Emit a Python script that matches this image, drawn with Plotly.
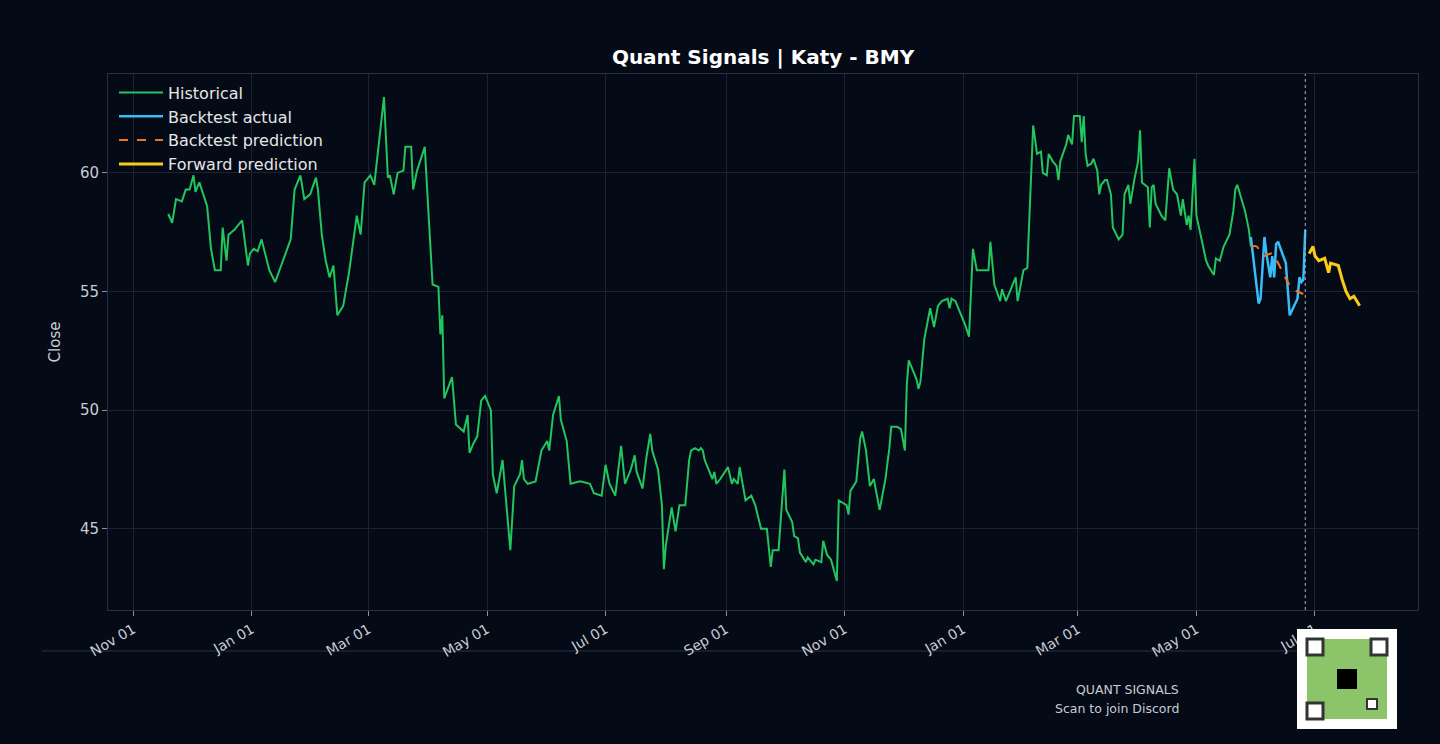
import plotly.graph_objects as go

hist_dates = ["2023-11-19","2023-11-21","2023-11-23","2023-11-26","2023-11-28","2023-11-30","2023-12-02","2023-12-03","2023-12-05","2023-12-07","2023-12-09","2023-12-11","2023-12-13","2023-12-16","2023-12-17","2023-12-19","2023-12-20","2023-12-23","2023-12-27","2023-12-30","2023-12-31",
"2024-01-02","2024-01-04","2024-01-06","2024-01-10","2024-01-13","2024-01-15","2024-01-17","2024-01-21","2024-01-23","2024-01-26","2024-01-28","2024-01-31","2024-02-03","2024-02-04","2024-02-06","2024-02-08","2024-02-10","2024-02-12","2024-02-14","2024-02-17","2024-02-20","2024-02-24","2024-02-26","2024-02-28",
"2024-03-02","2024-03-04","2024-03-05","2024-03-09","2024-03-11","2024-03-12","2024-03-14","2024-03-16","2024-03-19","2024-03-20","2024-03-23","2024-03-24","2024-03-26","2024-03-30","2024-03-31",
"2024-04-03","2024-04-06","2024-04-07","2024-04-08","2024-04-09","2024-04-13","2024-04-15","2024-04-19","2024-04-21","2024-04-22","2024-04-24","2024-04-26","2024-04-28","2024-04-30",
"2024-05-03","2024-05-04","2024-05-06","2024-05-09","2024-05-13","2024-05-15","2024-05-18","2024-05-19","2024-05-20","2024-05-22","2024-05-26","2024-05-29",
"2024-06-01","2024-06-02","2024-06-04","2024-06-07","2024-06-08","2024-06-11","2024-06-13","2024-06-18","2024-06-23","2024-06-25","2024-06-29",
"2024-07-01","2024-07-03","2024-07-06","2024-07-09","2024-07-11","2024-07-14","2024-07-16","2024-07-17","2024-07-20","2024-07-22","2024-07-24","2024-07-25","2024-07-28","2024-07-30","2024-07-31",
"2024-08-01","2024-08-04","2024-08-06","2024-08-08","2024-08-11","2024-08-13","2024-08-14","2024-08-16","2024-08-18","2024-08-19","2024-08-20","2024-08-21","2024-08-25","2024-08-26","2024-08-27","2024-08-29",
"2024-09-02","2024-09-04","2024-09-05","2024-09-07","2024-09-08","2024-09-11","2024-09-14","2024-09-16","2024-09-19","2024-09-22","2024-09-24","2024-09-25","2024-09-28",
"2024-10-01","2024-10-02","2024-10-05","2024-10-06","2024-10-08","2024-10-09","2024-10-12","2024-10-13","2024-10-16","2024-10-17","2024-10-20","2024-10-21","2024-10-23","2024-10-25","2024-10-28","2024-10-29","2024-10-31",
"2024-11-02","2024-11-03","2024-11-04","2024-11-07","2024-11-09","2024-11-10","2024-11-12","2024-11-14","2024-11-16","2024-11-19","2024-11-22","2024-11-24","2024-11-25","2024-11-28","2024-11-30",
"2024-12-02","2024-12-03","2024-12-04","2024-12-06","2024-12-08","2024-12-09","2024-12-10","2024-12-12","2024-12-15","2024-12-17","2024-12-19","2024-12-21","2024-12-24","2024-12-25","2024-12-26","2024-12-28","2024-12-31",
"2025-01-02","2025-01-04","2025-01-06","2025-01-08","2025-01-14","2025-01-15","2025-01-16","2025-01-17","2025-01-20","2025-01-21","2025-01-23","2025-01-25","2025-01-28","2025-01-29",
"2025-02-01","2025-02-03","2025-02-06","2025-02-08","2025-02-10","2025-02-11","2025-02-13","2025-02-14","2025-02-16","2025-02-18","2025-02-19","2025-02-20","2025-02-22","2025-02-23","2025-02-24","2025-02-26","2025-02-27",
"2025-03-02","2025-03-03","2025-03-04","2025-03-05","2025-03-06","2025-03-08","2025-03-09","2025-03-11","2025-03-12","2025-03-13","2025-03-15","2025-03-16","2025-03-18","2025-03-19","2025-03-22","2025-03-24","2025-03-25","2025-03-27","2025-03-28","2025-03-30",
"2025-04-01","2025-04-02","2025-04-03","2025-04-06","2025-04-07","2025-04-08","2025-04-09","2025-04-10","2025-04-13","2025-04-15","2025-04-17","2025-04-19","2025-04-21","2025-04-23","2025-04-24","2025-04-26","2025-04-27","2025-04-28","2025-04-30",
"2025-05-01","2025-05-03","2025-05-06","2025-05-07","2025-05-10","2025-05-11","2025-05-13","2025-05-15","2025-05-18","2025-05-20","2025-05-21","2025-05-22","2025-05-26","2025-05-28","2025-05-29"]
hist_close = [58.27,57.9,58.9,58.8,59.3,59.3,59.9,59.2,59.6,59.1,58.6,56.8,55.9,55.9,57.7,56.3,57.4,57.6,58.0,56.1,56.6,
56.8,56.7,57.2,55.9,55.4,55.9,56.3,57.2,59.3,59.9,58.9,59.1,59.8,59.3,57.4,56.3,55.6,56.1,54.0,54.4,55.8,58.2,57.4,59.6,
59.9,59.5,60.2,63.2,59.8,59.9,59.1,60.0,60.1,61.1,61.1,59.3,60.1,61.1,59.6,
55.3,55.2,53.2,54.0,50.5,51.4,49.4,49.1,49.8,48.2,48.6,48.9,50.4,50.6,
50.0,47.3,46.5,47.9,44.1,46.8,47.3,47.9,47.1,46.9,47.0,48.3,
48.7,48.3,49.8,50.6,49.6,48.7,46.9,47.0,46.9,46.5,46.4,
47.7,46.9,46.4,48.5,46.9,47.5,48.1,47.4,46.7,48.0,49.0,48.3,47.5,46.0,43.3,
44.3,45.9,44.9,46.0,46.0,47.9,48.3,48.4,48.3,48.4,48.3,47.9,47.1,47.4,46.9,47.1,
47.6,46.9,47.1,46.9,47.6,46.2,46.4,46.0,45.0,45.0,43.4,44.1,44.1,
47.5,45.8,45.3,44.7,44.6,44.0,43.6,43.8,43.5,43.7,43.6,44.5,43.9,43.7,42.8,46.2,46.1,
46.0,45.6,46.6,47.0,48.8,49.1,48.3,46.8,47.1,45.8,47.1,48.4,49.3,49.3,49.2,
48.3,51.1,52.1,51.7,51.3,50.9,51.2,53.0,54.3,53.5,54.4,54.6,54.7,54.3,54.7,54.6,54.0,
53.6,53.1,56.8,55.9,55.9,57.1,56.3,55.3,54.6,55.1,54.6,55.0,55.6,54.6,
55.9,56.0,62.0,60.8,60.9,60.0,59.9,60.8,60.5,60.3,59.7,60.5,61.0,61.2,61.6,61.2,62.4,
62.4,61.3,62.4,60.8,60.3,60.4,60.6,60.1,59.1,59.5,59.7,59.7,59.1,57.7,57.2,57.4,59.1,59.5,58.7,59.7,
60.5,61.8,59.6,59.4,57.7,59.4,59.5,58.7,58.2,58.0,60.2,59.3,59.1,58.2,58.9,57.8,58.2,57.6,60.6,
58.2,57.4,56.3,56.1,55.7,56.4,56.3,56.9,57.4,58.4,59.3,59.5,58.4,57.6,56.9]

bt_dates = ["2025-05-29","2025-06-02","2025-06-03","2025-06-05","2025-06-06","2025-06-07","2025-06-08","2025-06-09","2025-06-10","2025-06-11","2025-06-12","2025-06-16","2025-06-18","2025-06-22","2025-06-23","2025-06-24","2025-06-25","2025-06-26"]
bt_actual = [57.3,54.5,54.7,57.3,56.6,56.0,55.6,56.5,55.6,57.0,57.1,56.2,54.0,54.7,55.6,55.4,55.5,57.6]

pred_dates = ["2025-05-29","2025-06-01","2025-06-04","2025-06-09","2025-06-12","2025-06-17","2025-06-20","2025-06-25"]
pred_close = [56.9,56.9,56.5,56.6,56.2,55.4,55.1,54.9]

fwd_dates = ["2025-06-28","2025-06-30","2025-07-01","2025-07-03","2025-07-06","2025-07-08","2025-07-09","2025-07-13","2025-07-15","2025-07-17","2025-07-19","2025-07-21","2025-07-24"]
fwd_close = [56.6,56.9,56.5,56.3,56.4,55.8,56.2,56.1,55.5,55.0,54.7,54.8,54.4]

cutoff = "2025-06-26"
tick_vals = ["2023-11-01","2024-01-01","2024-03-01","2024-05-01","2024-07-01","2024-09-01","2024-11-01","2025-01-01","2025-03-01","2025-05-01","2025-07-01"]
tick_text = ["Nov 01","Jan 01","Mar 01","May 01","Jul 01","Sep 01","Nov 01","Jan 01","Mar 01","May 01","Jul 01"]

BG = "#050a17"
W, H = 1440, 744
L, R, T, B = 108, 1418, 74, 610

def px(x): return (x - L) / (R - L)
def py(y): return (B - y) / (B - T)

fig = go.Figure()
fig.add_trace(go.Scatter(x=hist_dates, y=hist_close, mode="lines", name="Historical", line=dict(color="#22c55e", width=2)))
fig.add_trace(go.Scatter(x=bt_dates, y=bt_actual, mode="lines", name="Backtest actual", line=dict(color="#38bdf8", width=2.5)))
fig.add_trace(go.Scatter(x=pred_dates, y=pred_close, mode="lines", name="Backtest prediction", line=dict(color="#f97316", width=2, dash="dash", shape="spline")))
fig.add_trace(go.Scatter(x=fwd_dates, y=fwd_close, mode="lines", name="Forward prediction", line=dict(color="#facc15", width=3)))

fig.add_shape(type="line", x0=cutoff, x1=cutoff, y0=0, y1=1, xref="x", yref="paper", line=dict(color="#aab0bc", width=1, dash="dot"))
fig.add_shape(type="line", x0=px(42), x1=px(1300), y0=py(651), y1=py(651), xref="paper", yref="paper", line=dict(color="#2a3040", width=1), layer="below")

# QR badge
fig.add_shape(type="rect", xref="paper", yref="paper", x0=px(1297), x1=px(1397), y0=py(729), y1=py(629), fillcolor="white", line=dict(color="white", width=0))
fig.add_shape(type="rect", xref="paper", yref="paper", x0=px(1307), x1=px(1387), y0=py(719), y1=py(639), fillcolor="#8cc46a", line=dict(width=0))
for (a, b) in [(1307, 639), (1371, 639), (1307, 703)]:
    fig.add_shape(type="rect", xref="paper", yref="paper", x0=px(a), x1=px(a+16), y0=py(b+16), y1=py(b), fillcolor="white", line=dict(color="#333", width=3))
fig.add_shape(type="rect", xref="paper", yref="paper", x0=px(1337), x1=px(1357), y0=py(689), y1=py(669), fillcolor="black", line=dict(width=0))
fig.add_shape(type="rect", xref="paper", yref="paper", x0=px(1367), x1=px(1377), y0=py(709), y1=py(699), fillcolor="white", line=dict(color="#333", width=2))

fig.add_annotation(xref="paper", yref="paper", x=px(1181), y=py(689), text="QUANT SIGNALS", showarrow=False, xanchor="right", yanchor="middle", font=dict(size=12.5, color="#c8ccd4"))
fig.add_annotation(xref="paper", yref="paper", x=px(1181), y=py(708), text="Scan to join Discord", showarrow=False, xanchor="right", yanchor="middle", font=dict(size=12.5, color="#c8ccd4"))

fig.update_layout(
    width=W, height=H, paper_bgcolor=BG, plot_bgcolor=BG,
    margin=dict(l=L, r=W-R, t=T, b=H-B),
    font=dict(family="DejaVu Sans", color="#c8ccd4", size=15),
    title=dict(text="<b>Quant Signals | Katy - BMY</b>", x=763/W, xanchor="center", y=1-57/H, yanchor="middle", font=dict(size=20, color="white")),
    legend=dict(x=px(114), y=0.997, xanchor="left", yanchor="top", bgcolor="rgba(0,0,0,0)", font=dict(size=16, color="#e6e6e6"), itemwidth=44),
    showlegend=True,
)
fig.update_xaxes(range=["2023-10-19", "2025-08-23"], tickvals=tick_vals, ticktext=tick_text, tickangle=-30,
                 showgrid=True, gridcolor="#1c2230", ticks="outside", tickcolor="#8a909c", ticklen=5,
                 showline=True, linecolor="#2a3040", mirror=True, zeroline=False, tickfont=dict(size=14))
fig.update_yaxes(range=[41.58, 64.17], tickvals=[45, 50, 55, 60], title=dict(text="Close", font=dict(size=15)),
                 showgrid=True, gridcolor="#1c2230", ticks="outside", tickcolor="#8a909c", ticklen=5,
                 showline=True, linecolor="#2a3040", mirror=True, zeroline=False)
fig.write_html("out.html", config={"displayModeBar": False},
               post_script="document.body.style.margin='0';document.body.style.background='#050a17';")
